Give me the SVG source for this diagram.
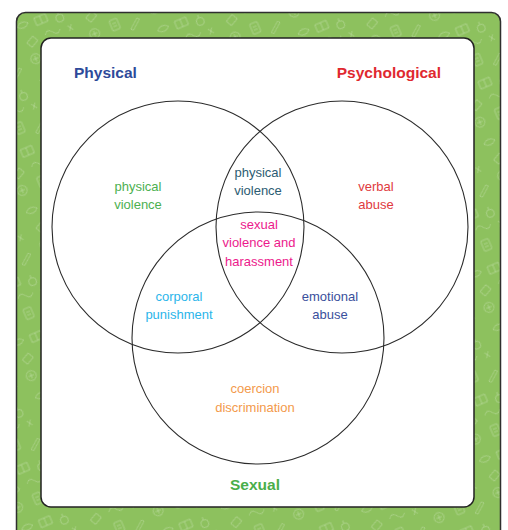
<svg xmlns="http://www.w3.org/2000/svg" width="508" height="530" viewBox="0 0 508 530">
  <style>
    .set { fill: none; stroke: #2b2b2b; stroke-width: 1.1; }
    .title { font-family: "Liberation Sans", Arial, sans-serif; font-size: 15.5px; font-weight: bold; }
    .lbl { font-family: "Liberation Sans", Arial, sans-serif; font-size: 13px; text-anchor: middle; }
    .doodle { fill: none; stroke: #ffffff; stroke-opacity: 0.3; stroke-width: 0.8; }
  </style>
  <defs>
    <!-- faint school-supply doodles tiled over the green frame -->
    <pattern id="doodles" width="64" height="58" patternUnits="userSpaceOnUse" patternTransform="rotate(-23)">
      <rect x="-10" y="-10" width="90" height="80" fill="#8dc15e"/>
      <g class="doodle">
        <circle cx="10" cy="10" r="5"/>
        <path d="M7 10 h6 M10 7 v6"/>
        <rect x="28" y="4" width="8" height="11" rx="1"/>
        <path d="M30 8 h4 M30 11 h4"/>
        <path d="M45 20 l10 -8 l2 2 l-10 8 z"/>
        <path d="M5 32 q6 -6 12 0 q-6 6 -12 0 z"/>
        <path d="M24 30 h12 v8 h-12 z M30 30 v8"/>
        <circle cx="48" cy="40" r="4"/>
        <path d="M48 36 v-3"/>
        <path d="M8 50 l8 -4 l3 6 l-8 4 z"/>
        <path d="M28 50 q4 -6 8 0 t8 0"/>
        <path d="M52 50 l4 6 M56 50 l-4 6"/>
      </g>
    </pattern>
  </defs>

  <!-- outer patterned frame -->
  <rect x="16.5" y="12.5" width="484" height="530" rx="9" fill="url(#doodles)" stroke="#2f2f2f" stroke-width="1.5"/>
  <!-- white panel -->
  <rect x="41" y="38" width="433" height="469" rx="10" fill="#ffffff" stroke="#222222" stroke-width="1.5"/>

  <g id="connectors"></g>

  <g id="set-physical">
    <circle class="set" cx="178" cy="227" r="126"/>
    <text class="title" x="74" y="77.5" fill="#2e4a9a">Physical</text>
  </g>
  <g id="set-psychological">
    <circle class="set" cx="342" cy="227" r="126"/>
    <text class="title" x="441" y="77.5" fill="#e0282f" text-anchor="end">Psychological</text>
  </g>
  <g id="set-sexual">
    <circle class="set" cx="258" cy="338" r="126"/>
    <text class="title" x="255" y="489.5" fill="#4aae4a" text-anchor="middle">Sexual</text>
  </g>

  <g id="physical-only">
    <text class="lbl" fill="#4cb050"><tspan x="138" y="190.5">physical</tspan><tspan x="138" y="209">violence</tspan></text>
  </g>
  <g id="physical-psychological">
    <text class="lbl" fill="#2c5c72"><tspan x="258" y="176.5">physical</tspan><tspan x="258" y="194.5">violence</tspan></text>
  </g>
  <g id="psychological-only">
    <text class="lbl" fill="#e03a40"><tspan x="376" y="190.5">verbal</tspan><tspan x="376" y="209">abuse</tspan></text>
  </g>
  <g id="all-three">
    <text class="lbl" fill="#ec1a8c"><tspan x="259" y="228.5">sexual</tspan><tspan x="259" y="247">violence and</tspan><tspan x="259" y="265.5">harassment</tspan></text>
  </g>
  <g id="physical-sexual">
    <text class="lbl" fill="#2bb5ea"><tspan x="179" y="301">corporal</tspan><tspan x="179" y="319">punishment</tspan></text>
  </g>
  <g id="psychological-sexual">
    <text class="lbl" fill="#3a4f9c"><tspan x="330" y="301">emotional</tspan><tspan x="330" y="319">abuse</tspan></text>
  </g>
  <g id="sexual-only">
    <text class="lbl" fill="#f39a4c"><tspan x="255" y="393">coercion</tspan><tspan x="255" y="411.5">discrimination</tspan></text>
  </g>
</svg>
